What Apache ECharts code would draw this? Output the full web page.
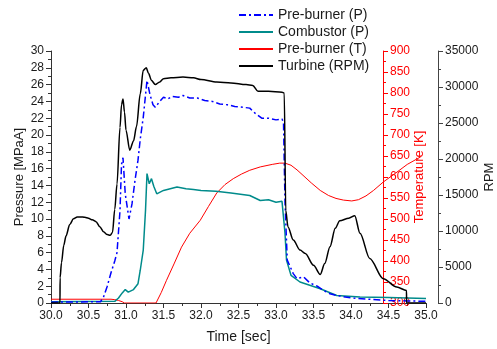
<!DOCTYPE html>
<html><head><meta charset="utf-8">
<script src="https://cdn.jsdelivr.net/npm/echarts@6/dist/echarts.min.js"></script>
<style>html,body{margin:0;padding:0;background:#fff}#c{width:497px;height:349px}</style>
</head><body><div id="c"></div>
<script>
// Tick labels / axis ranges
const xTicks = [30.0, 30.5, 31.0, 31.5, 32.0, 32.5, 33.0, 33.5, 34.0, 34.5, 35.0];
const seriesNames = ['Pre-burner (P)', 'Combustor (P)', 'Pre-burner (T)', 'Turbine (RPM)'];

// Pre-burner pressure [MPaA]
const preP_t = [30.0, 30.66, 30.7, 30.75, 30.8, 30.85, 30.88, 30.92, 30.94, 30.96, 30.99, 31.04, 31.08, 31.12, 31.16, 31.19, 31.23, 31.28, 31.32, 31.36, 31.39, 31.45, 31.5, 31.56, 31.62, 31.7, 31.76, 31.85, 31.95, 32.05, 32.15, 32.25, 32.35, 32.45, 32.56, 32.65, 32.72, 32.81, 32.9, 33.0, 33.08, 33.1, 33.12, 33.15, 33.23, 33.28, 33.37, 33.45, 33.55, 33.63, 33.72, 33.81, 34.0, 34.25, 34.5, 34.75, 35.0];
const preP_v = [0.1, 0.15, 0.7, 2.0, 3.6, 5.0, 6.0, 11.0, 16.5, 17.3, 13.0, 10.0, 11.8, 14.6, 17.0, 19.5, 22.1, 26.5, 24.8, 23.6, 23.3, 24.0, 24.5, 24.3, 24.6, 24.5, 24.7, 24.4, 24.4, 24.1, 24.0, 23.7, 23.6, 23.4, 23.3, 23.2, 22.6, 22.0, 22.0, 21.8, 21.9, 21.5, 12.0, 5.1, 3.5, 2.9, 3.1, 2.4, 2.0, 1.5, 1.1, 0.9, 0.6, 0.45, 0.3, 0.25, 0.2];

// Combustor pressure [MPaA]
const combP_t = [30.0, 30.85, 30.9, 30.95, 30.99, 31.03, 31.1, 31.16, 31.19, 31.23, 31.26, 31.28, 31.31, 31.34, 31.37, 31.41, 31.5, 31.68, 31.8, 31.9, 32.0, 32.2, 32.4, 32.65, 32.79, 32.9, 33.0, 33.08, 33.1, 33.12, 33.14, 33.2, 33.32, 33.59, 33.81, 34.12, 34.5, 35.0];
const combP_v = [0.15, 0.2, 0.6, 1.2, 1.6, 1.3, 1.6, 2.3, 3.9, 6.3, 11.0, 15.4, 14.2, 14.8, 13.9, 13.0, 13.4, 13.8, 13.6, 13.5, 13.4, 13.3, 13.1, 12.8, 12.2, 12.3, 12.0, 12.1, 12.0, 8.3, 5.1, 3.3, 2.5, 1.7, 0.9, 0.7, 0.65, 0.55];

// Pre-burner temperature [K]
const preT_t = [30.0, 30.8, 30.85, 30.9, 30.95, 30.98, 31.4, 31.47, 31.54, 31.64, 31.74, 31.85, 31.99, 32.1, 32.21, 32.32, 32.43, 32.54, 32.65, 32.79, 32.95, 33.05, 33.12, 33.2, 33.28, 33.36, 33.47, 33.59, 33.7, 33.8, 33.9, 34.01, 34.1, 34.2, 34.3, 34.43, 34.6, 34.75, 34.93];
const preT_v = [309, 309, 308, 306, 303, 300, 300, 325, 354, 393, 433, 466, 497, 530, 562, 582, 596, 607, 616, 624, 630, 633, 633, 628, 617, 604, 586, 568, 556, 549, 545, 543, 546, 555, 568, 588, 610, 630, 648];

// Turbine speed [RPM]
const rpm_t = [30.0, 30.12, 30.121, 30.14, 30.17, 30.2, 30.25, 30.3, 30.35, 30.4, 30.45, 30.5, 30.55, 30.6, 30.65, 30.7, 30.75, 30.79, 30.82, 30.85, 30.88, 30.92, 30.94, 30.96, 30.98, 31.0, 31.05, 31.1, 31.14, 31.19, 31.23, 31.27, 31.3, 31.34, 31.39, 31.45, 31.5, 31.6, 31.76, 31.9, 32.0, 32.21, 32.4, 32.6, 32.69, 32.76, 32.9, 33.08, 33.11, 33.13, 33.16, 33.23, 33.32, 33.39, 33.5, 33.59, 33.65, 33.72, 33.79, 33.85, 33.97, 34.05, 34.12, 34.25, 34.43, 34.61, 34.74, 34.741, 35.0];
const rpm_v = [0, 0, 3500, 5600, 8000, 9300, 10900, 11700, 11950, 11960, 11900, 11780, 11550, 11300, 10600, 9900, 9500, 9400, 9800, 13000, 16500, 24380, 27500, 28350, 26500, 24000, 21230, 22500, 24500, 29050, 32320, 32670, 31900, 30920, 30330, 30700, 31150, 31270, 31380, 31270, 31030, 30680, 30570, 30330, 30220, 29400, 29400, 29280, 29170, 12830, 10560, 8750, 7350, 6880, 5250, 3970, 5480, 7820, 10380, 11430, 11780, 12130, 9680, 6180, 3380, 2220, 1750, 0, 0];

const zip = (a, b) => a.map((t, i) => [t, b[i]]);
const FONT = '"Liberation Sans", Arial, sans-serif';
const TXT = '#1a1a1a';

const chart = echarts.init(document.getElementById('c'), null, {renderer: 'canvas'});
chart.setOption({
  animation: false,
  backgroundColor: '#fff',
  textStyle: {fontFamily: FONT},
  grid: {left: 51, right: 71, top: 51, bottom: 46, containLabel: false, outerBoundsMode: 'none'},
  legend: {
    orient: 'vertical', left: 238, top: 8, padding: 0, itemWidth: 34, itemHeight: 14, itemGap: 3,
    itemStyle: {opacity: 0},
    textStyle: {fontSize: 14, color: TXT, fontFamily: FONT},
    data: seriesNames
  },
  xAxis: {
    type: 'value', min: xTicks[0], max: xTicks[xTicks.length - 1], interval: 0.5,
    name: 'Time [sec]', nameLocation: 'middle', nameGap: 27, nameMoveOverlap: false,
    nameTextStyle: {fontSize: 14, color: TXT},
    axisLine: {lineStyle: {color: '#333'}},
    axisTick: {length: 5, lineStyle: {color: '#333'}},
    minorTick: {show: true, splitNumber: 2, length: 3, lineStyle: {color: '#333'}},
    splitLine: {show: false},
    axisLabel: {fontSize: 12, color: TXT, margin: 7, formatter: v => v.toFixed(1)}
  },
  yAxis: [
    {
      type: 'value', min: 0, max: 30, interval: 2, position: 'left',
      name: 'Pressure [MPaA]', nameLocation: 'middle', nameGap: 25, nameMoveOverlap: false,
      nameTextStyle: {fontSize: 13, color: TXT},
      axisLine: {show: true, lineStyle: {color: '#333'}},
      axisTick: {show: true, length: 5, lineStyle: {color: '#333'}},
      minorTick: {show: true, splitNumber: 2, length: 3, lineStyle: {color: '#333'}},
      splitLine: {show: false},
      axisLabel: {fontSize: 12, color: TXT, margin: 7}
    },
    {
      type: 'value', min: 300, max: 900, interval: 50, position: 'right', offset: -43,
      name: 'Temperature [K]', nameLocation: 'middle', nameGap: 30, nameMoveOverlap: false,
      nameTextStyle: {fontSize: 13, color: '#ff0000'},
      axisLine: {show: true, lineStyle: {color: '#ff0000'}},
      axisTick: {show: true, length: 5, lineStyle: {color: '#ff0000'}},
      minorTick: {show: true, splitNumber: 2, length: 3, lineStyle: {color: '#ff0000'}},
      splitLine: {show: false},
      axisLabel: {fontSize: 12, color: '#ff0000', margin: 7}
    },
    {
      type: 'value', min: 0, max: 35000, interval: 5000, position: 'right', offset: 12,
      name: 'RPM', nameLocation: 'middle', nameGap: 45, nameMoveOverlap: false,
      nameTextStyle: {fontSize: 13, color: TXT},
      axisLine: {show: true, lineStyle: {color: '#444'}},
      axisTick: {show: true, length: 5, lineStyle: {color: '#444'}},
      minorTick: {show: true, splitNumber: 2, length: 3, lineStyle: {color: '#444'}},
      splitLine: {show: false},
      axisLabel: {fontSize: 12, color: TXT, margin: 7, formatter: v => String(v)}
    }
  ],
  series: [
    {name: seriesNames[0], type: 'line', yAxisIndex: 0, symbol: 'none', z: 4,
     lineStyle: {color: '#0000ff', width: 1.5, type: [7, 3, 2, 3]}, itemStyle: {color: '#0000ff'},
     data: zip(preP_t, preP_v)},
    {name: seriesNames[1], type: 'line', yAxisIndex: 0, symbol: 'none', z: 3,
     lineStyle: {color: '#008b8b', width: 1.5}, itemStyle: {color: '#008b8b'},
     data: zip(combP_t, combP_v)},
    {name: seriesNames[2], type: 'line', yAxisIndex: 1, symbol: 'none', z: 2,
     lineStyle: {color: '#ff0000', width: 1}, itemStyle: {color: '#ff0000'},
     data: zip(preT_t, preT_v)},
    {name: seriesNames[3], type: 'line', yAxisIndex: 2, symbol: 'none', z: 5, smooth: 0.3, smoothMonotone: 'x',
     lineStyle: {color: '#000000', width: 1.5}, itemStyle: {color: '#000000'},
     data: zip(rpm_t, rpm_v)}
  ]
});
</script>
</body></html>
